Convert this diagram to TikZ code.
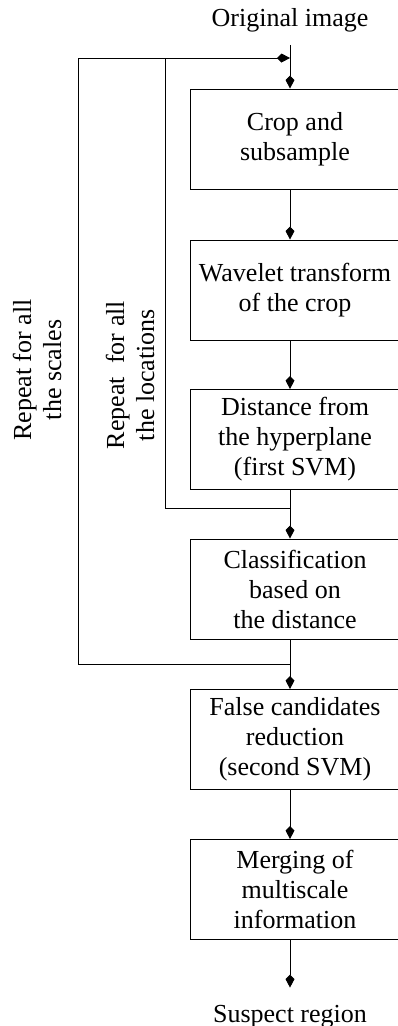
\documentclass[tikz,border=0pt]{standalone}
\usepackage{fontspec}
\setmainfont{Liberation Serif}
\usetikzlibrary{arrows.meta,calc}
\begin{document}
\begin{tikzpicture}[x=1pt,y=-1pt,
  every node/.style={font=\fontsize{26}{30}\selectfont},
  stepbox/.style={draw,line width=1pt,minimum width=210pt,minimum height=100pt,align=center,inner sep=0pt},
  lbl/.style={align=center,inner sep=0pt},
  conn/.style={line width=1pt},
  arr/.style={conn,-{Kite[length=13pt,width=9pt,inset=4.5pt]}}]
\useasboundingbox (0,0) rectangle (398,1026);
\node[lbl,anchor=base,inner sep=0pt] (orig) at (290,26) {Original image};
\node[stepbox] (b1) at (295,139) {Crop and\\subsample};
\node[stepbox] (b2) at (295,290) {Wavelet transform\\of the crop};
\node[stepbox] (b3) at (295,439.5) {Distance from\\the hyperplane\\(first SVM)};
\node[stepbox] (b4) at (295,589) {Classification\\based on\\the distance};
\node[stepbox] (b5) at (295,739.5) {False candidates\\reduction\\(second SVM)};
\node[stepbox] (b6) at (295,889.5) {Merging of\\multiscale\\information};
\node[lbl,anchor=base] (sus) at (290,1022) {Suspect region};
\node[lbl,rotate=90] (rs) at (37,370) {Repeat for all\\the scales};
\node[lbl,rotate=90] (rl) at (130,375) {Repeat\ \ for all\\the locations};
\coordinate (top) at (290,58);
\coordinate (j1) at (290,508);
\coordinate (j2) at (290,664);
\coordinate (c1) at (165,58);
\coordinate (c2) at (78,58);
\draw[arr,shorten <=13pt] (orig) -- (b1.north -| top);
\draw[arr] (b1.south -| top) -- (b2.north -| top);
\draw[arr] (b2.south -| top) -- (b3.north -| top);
\draw[arr] (b3.south -| top) -- (b4.north -| top);
\draw[arr] (b4.south -| top) -- (b5.north -| top);
\draw[arr] (b5.south -| top) -- (b6.north -| top);
\draw[arr,shorten >=17pt] (b6.south -| top) -- (sus.north);
\draw[arr] (j2) -- (j2 -| c2) -- (c2) -- (top);
\draw[conn] (j1) -- (j1 -| c1) -- (c1);
\end{tikzpicture}
\end{document}
